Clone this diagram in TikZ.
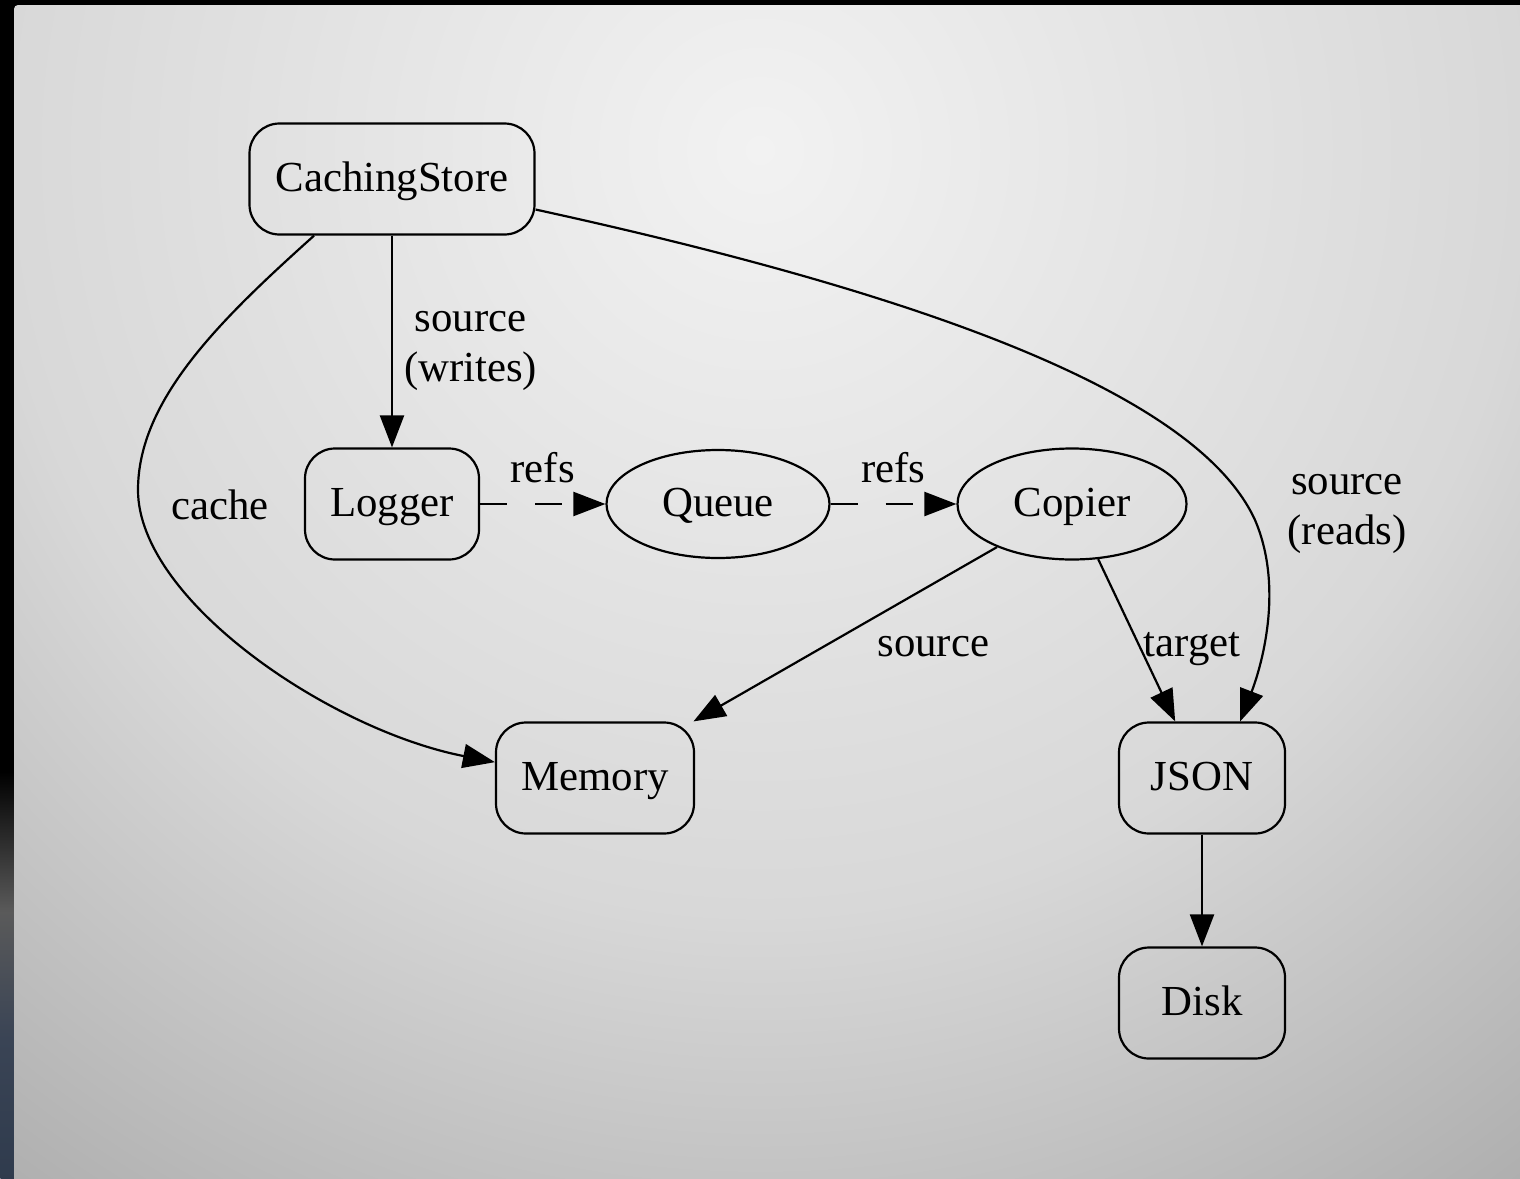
\documentclass[tikz,border=0pt]{standalone}
\usepackage{fontspec}
\setmainfont{Liberation Serif}
\usetikzlibrary{arrows.meta,shapes.geometric}

\definecolor{pnlA}{HTML}{F2F2F2}
\definecolor{pnlB}{HTML}{D8D8D8}
\definecolor{pnlC}{HTML}{ADADAD}
\definecolor{stripA}{HTML}{2F3B4D}
\definecolor{stripB}{HTML}{3A4455}
\definecolor{stripC}{HTML}{5A5A5A}

\pgfdeclareverticalshading{stripshade}{7bp}{color(0bp)=(stripA); color(72bp)=(stripB); color(135bp)=(stripC); color(205bp)=(black); color(589bp)=(black)}
\pgfdeclareradialshading{panelshade}{\pgfpointorigin}{color(0bp)=(pnlA); color(380bp)=(pnlB); color(650bp)=(pnlC); color(700bp)=(pnlC)}

\tikzset{
    store/.style={draw, rounded corners=15pt, minimum height=55.5pt, inner sep=0pt, line width=1.1pt, text height=15.5pt, text depth=3.5pt},
    proc/.style={draw, ellipse, minimum height=54pt, inner sep=0pt, line width=1.1pt, text height=15.5pt, text depth=3.5pt},
    link/.style={line width=1.1pt, -{Triangle[length=16pt,width=12pt]}},
    refs/.style={link, dash pattern=on 13.5pt off 14pt},
    lbl/.style={align=center, inner sep=0pt}
}

\begin{document}
\begin{tikzpicture}[x=0.5pt, y=-0.5pt, font=\fontsize{21.4}{25}\selectfont]
    \useasboundingbox (0,0) rectangle (1520,1178);
    \fill[black] (0,0) rectangle (1520,1178);
    \node[inner sep=0pt, anchor=north west] (bgstrip) at (0,0) {\pgfuseshading{stripshade}};
    \begin{scope}
        \clip[rounded corners=2pt] (14,5) rectangle (1540,1200);
        \node[inner sep=0pt] (bgpanel) at (760,150) {\pgfuseshading{panelshade}};
    \end{scope}

    \node[store, minimum width=142.5pt] (cs) at (392,179) {CachingStore};
    \node[store, minimum width=87pt] (logger) at (392,504) {Logger};
    \node[proc, minimum width=111.5pt] (queue) at (718,504) {Queue};
    \node[proc, minimum width=114.5pt, minimum height=55.5pt] (copier) at (1072,504) {Copier};
    \node[store, minimum width=99pt] (memory) at (595,778) {Memory};
    \node[store, minimum width=83pt] (json) at (1202,778) {JSON};
    \node[store, minimum width=83pt] (disk) at (1202,1003) {Disk};

    \draw[link] (cs) -- node[lbl, anchor=west, xshift=5.5pt, yshift=-4.5pt] {source\\(writes)} (logger);
    \draw[link] (cs.216) .. controls (220,320) and (138,400) .. (138,490)
        .. controls (138,600) and (330,730) .. (memory.171);
    \node[lbl] (cachelbl) at (220,505) {cache};
    \draw[link] (cs.348) .. controls (950,300) and (1200,400) .. (1255,520)
        .. controls (1285,590) and (1260,670) .. (json.56);
    \node[lbl] (readslbl) at (1347,514) {source\\(reads)};
    \draw[refs] (logger) -- node[lbl, yshift=18pt] {refs} (queue);
    \draw[refs] (queue) -- node[lbl, yshift=18pt] {refs} (copier);
    \draw[link] (copier) -- node[lbl, xshift=44pt, yshift=-6pt] {source} (memory);
    \draw[link] (copier) -- node[lbl, anchor=west, xshift=3pt, yshift=-4.5pt] {target} (json);
    \draw[link] (json) -- (disk);
\end{tikzpicture}
\end{document}
